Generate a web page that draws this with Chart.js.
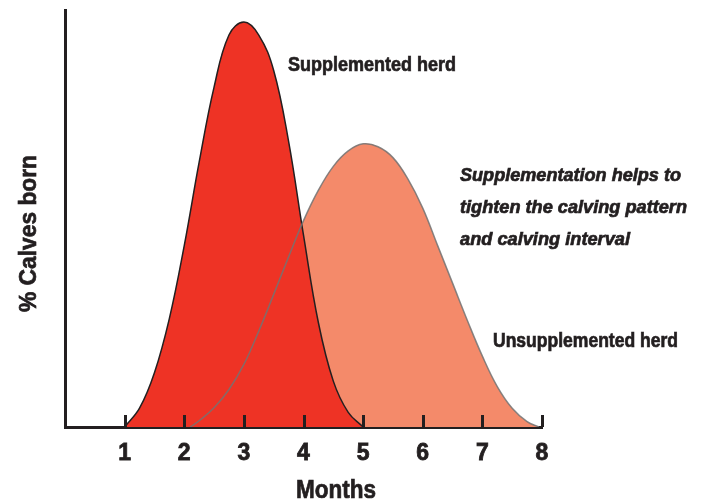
<!DOCTYPE html>
<html>
<head>
<meta charset="utf-8">
<script src="https://cdn.jsdelivr.net/npm/chart.js@4.4.1/dist/chart.umd.min.js"></script>
<style>
html,body{margin:0;padding:0;background:#fff;}
#wrap{width:706px;height:502px;position:relative;}
</style>
</head>
<body>
<div id="wrap"><canvas id="c" width="706" height="502"></canvas></div>
<script>
// ---- data ----
const monthTicks = [1, 2, 3, 4, 5, 6, 7, 8];
const supX = [1, 1.25, 1.5, 1.75, 2, 2.25, 2.5, 2.75, 3, 3.25, 3.5, 3.75, 4, 4.25, 4.5, 4.75, 5];
const supY = [0, 4.5, 13, 26, 43.5, 63.5, 81.5, 94, 97.1, 94, 85.5, 68.5, 46, 25, 11, 3.5, 0];
const unsupX = [2.1, 2.25, 2.5, 2.75, 3, 3.25, 3.5, 3.75, 4, 4.25, 4.5, 4.75, 5, 5.25, 5.5, 5.75, 6, 6.25, 6.5, 6.75, 7, 7.25, 7.5, 7.75, 7.95];
const unsupY = [0, 1.5, 4.6, 9, 15, 23, 31.8, 40.8, 49.5, 56.8, 62.5, 66.2, 67.9, 67.2, 64.6, 59.5, 52.5, 43.5, 34.5, 25.5, 17, 9.7, 4.5, 1.3, 0];
const xTitle = 'Months';
const yTitle = '% Calves born';
const labelSup = 'Supplemented herd';
const labelUnsup = 'Unsupplemented herd';
const noteLines = ['Supplementation helps to', 'tighten the calving pattern', 'and calving interval'];

const FONT = "'Liberation Sans', Arial, sans-serif";
const INK = '#231f20';
const RED = '#ee3325';
const SALMON = '#f48a6a';

const toPts = (xs, ys) => xs.map((x, i) => ({x: x, y: ys[i]}));

// draw text squeezed horizontally to a target width (condensed look)
function fitText(ctx, text, x, y, font, width, align) {
  ctx.save();
  ctx.font = font;
  const w = ctx.measureText(text).width;
  const k = width / w;
  ctx.translate(x, y);
  ctx.scale(k, 1);
  ctx.textAlign = align || 'left';
  ctx.fillText(text, 0, 0);
  ctx.lineWidth = 0.7;
  ctx.strokeStyle = INK;
  ctx.strokeText(text, 0, 0);
  ctx.restore();
}

const overlay = {
  id: 'overlay',
  afterDraw(chart) {
    const {ctx, chartArea, scales} = chart;
    const xs = scales.x;
    ctx.save();
    // tick marks pointing inward
    ctx.strokeStyle = INK;
    ctx.lineWidth = 3;
    monthTicks.forEach(v => {
      const px = Math.round(xs.getPixelForValue(v)) + 0.5;
      ctx.beginPath();
      ctx.moveTo(px, chartArea.bottom - 12);
      ctx.lineTo(px, chartArea.bottom);
      ctx.stroke();
    });
    ctx.fillStyle = INK;
    ctx.textBaseline = 'alphabetic';
    fitText(ctx, labelSup, 288, 71, "bold 20px " + FONT, 168);
    fitText(ctx, labelUnsup, 493, 347, "bold 20px " + FONT, 185);
    const noteW = [221, 227, 170];
    noteLines.forEach((t, i) => fitText(ctx, t, 460, 181 + i * 32, "italic bold 18px " + FONT, noteW[i]));
    fitText(ctx, xTitle, 336, 498, "bold 25px " + FONT, 80, 'center');
    ctx.translate(36, 233.5);
    ctx.rotate(-Math.PI / 2);
    fitText(ctx, yTitle, 0, 0, "bold 24px " + FONT, 157, 'center');
    ctx.restore();
  }
};

new Chart(document.getElementById('c'), {
  type: 'line',
  data: {
    datasets: [
      {
        label: 'Unsupplemented outline',
        data: toPts(unsupX, unsupY),
        order: 0,
        fill: false,
        borderColor: 'rgba(115,115,115,0.85)',
        borderWidth: 1.5,
        pointRadius: 0,
        tension: 0.4
      },
      {
        label: labelSup,
        data: toPts(supX, supY),
        order: 1,
        fill: 'origin',
        backgroundColor: RED,
        borderColor: INK,
        borderWidth: 1.5,
        pointRadius: 0,
        tension: 0.4
      },
      {
        label: labelUnsup,
        data: toPts(unsupX, unsupY),
        order: 2,
        fill: 'origin',
        backgroundColor: SALMON,
        borderColor: 'rgba(0,0,0,0)',
        borderWidth: 0,
        pointRadius: 0,
        tension: 0.4
      }
    ]
  },
  options: {
    responsive: false,
    animation: false,
    events: [],
    layout: {padding: {left: 65, top: 10, right: 164, bottom: 0}},
    plugins: {legend: {display: false}, tooltip: {enabled: false}},
    scales: {
      x: {
        type: 'linear',
        min: 0,
        max: 8,
        z: 1,
        afterFit(s) { s.height = 75; },
        grid: {display: false, drawTicks: false},
        border: {display: true, width: 3, color: INK},
        ticks: {
          stepSize: 1,
          padding: 13,
          color: INK,
          textStrokeColor: INK,
          textStrokeWidth: 0.8,
          font: {family: FONT, size: 23, weight: 'bold'},
          callback: v => (monthTicks.includes(v) ? String(v) : '')
        }
      },
      y: {
        min: 0,
        max: 100,
        z: 1,
        afterFit(s) { s.width = 0; },
        grid: {display: false, drawTicks: false},
        border: {display: true, width: 3, color: INK},
        ticks: {display: false}
      }
    }
  },
  plugins: [overlay]
});
</script>
</body>
</html>
